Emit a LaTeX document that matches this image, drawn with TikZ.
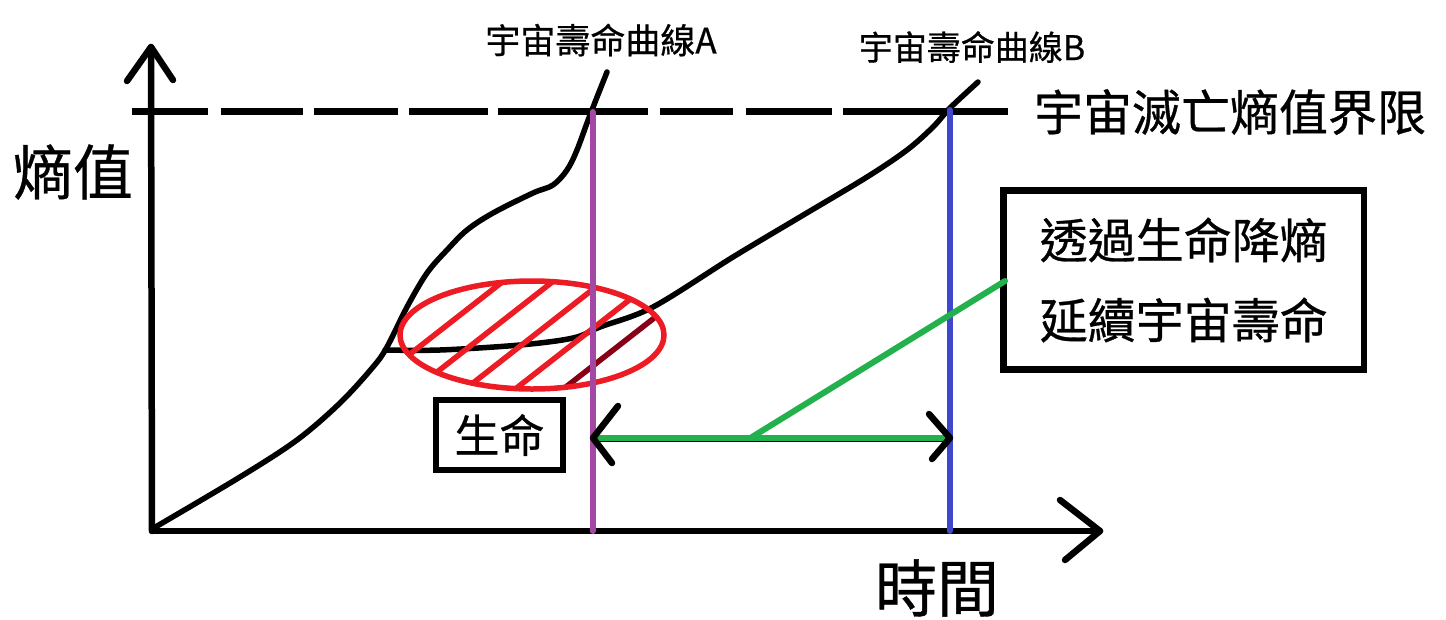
\documentclass[tikz,border=0pt]{standalone}
\usepackage{fontspec}
\setmainfont{Noto Sans CJK TC}[FakeBold=0.6]
\usetikzlibrary{calc}
\definecolor{pred}{HTML}{ED1C24}
\definecolor{pdark}{HTML}{880015}
\definecolor{ppurple}{HTML}{A349A4}
\definecolor{pblue}{HTML}{3F48CC}
\definecolor{pgreen}{HTML}{22B14C}
\begin{document}
\begin{tikzpicture}[x=1pt,y=-1pt,
  blk/.style={line width=5.5pt, line cap=round, line join=round},
  ax/.style={line width=6.5pt, line cap=round, line join=round},
  dashseg/.style={line width=6.5pt},
  vline/.style={line width=6pt, line cap=round},
  hatch/.style={line width=5.5pt, pred},
  lbl/.style={inner sep=0pt, text=black},
  boxed/.style={draw, line width=6.5pt, inner sep=0pt, align=center, fill=white}]
\useasboundingbox (0,0) rectangle (1446,619);
\fill[white] (0,0) rectangle (1446,619);

% key points
\coordinate (O) at (152,531);
\coordinate (ytop) at (151,47);
\coordinate (xend) at (1100,531);
\coordinate (ya1) at (127,81);
\coordinate (ya2) at (173,80);
\coordinate (xa1) at (1060,500);
\coordinate (xa2) at (1065,560);

% axes
\draw[ax] (O) -- (ytop);
\draw[ax] (ya1) -- (ytop) -- (ya2);
\draw[ax] (O) -- (xend);
\draw[ax] (xa1) -- (xend) -- (xa2);

% dashed limit line
\foreach \a/\b in {131.7/208.3, 220.7/302.7, 314.3/398.3, 408.7/487.7, 498.3/648.3, 660/732.7, 746/831.7, 843.3/1008.3}
  \draw[dashseg] (\a,111.7) -- (\b,111.7);

% curve A
\draw[blk] plot[smooth, tension=0.55] coordinates {(152,529) (240,477) (297,440) (340,403) (373,367) (387,347) (407,307) (427,273) (447,250) (467,230) (493,213) (533,193) (553,185) (567,170) (577,150) (590,115) (607,72)};
% curve B
\draw[blk] plot[smooth, tension=0.55] coordinates {(385,350) (440,350) (520,345) (573,338) (600,327) (653,307) (733,257) (800,217) (867,177) (907,150) (933,127) (950,108) (978,82)};

% life ellipse with hatching
\begin{scope}
  \clip (532,335) ellipse [x radius=132, y radius=54];
  \foreach \c in {428,478,528,578}
    \draw[hatch] (\c-160,340+125) -- (\c+160,340-125);
  \draw[hatch, pdark] (626-160,340+125) -- (626+160,340-125);
\end{scope}
\draw[line width=5.5pt, pred] (532,335) ellipse [x radius=132, y radius=54];

% vertical life-time lines
\coordinate (pa) at (592.5,112);
\coordinate (pb) at (592.5,531);
\coordinate (ba) at (949.5,110);
\coordinate (bb) at (949.5,531);
\draw[vline, ppurple] (pa) -- (pb);
\draw[vline, pblue] (ba) -- (bb);

% labels
\node[lbl, font=\fontsize{60}{60}\selectfont] (ylab) at (73,172) {熵值};
\node[lbl, font=\fontsize{62}{62}\selectfont] (xlab) at (937,588) {時間};
\node[lbl, font=\fontsize{49}{49}\selectfont] (lim) at (1230,112) {宇宙滅亡熵值界限};
\node[lbl, font=\fontsize{35}{35}\selectfont] (la) at (601,40) {宇宙壽命曲線A};
\node[lbl, font=\fontsize{34}{34}\selectfont] (lb) at (972,47) {宇宙壽命曲線B};
\node[boxed, minimum width=360.5pt, minimum height=179pt, font=\fontsize{48}{80}\selectfont] (note) at (1183.75,280) {透過生命降熵\\延續宇宙壽命};
\node[boxed, minimum width=127pt, minimum height=70pt, font=\fontsize{45}{45}\selectfont] (life) at (499.5,435) {生命};

% extension arrow
\coordinate (gl) at (593,438);
\coordinate (gr) at (950,438);
\coordinate (gm) at (752,437);
\coordinate (gend) at (1005,281);
\draw[line width=6pt] ($(gl)+(0,1)$) -- ($(gr)+(0,1)$);
\draw[line width=5.5pt, pgreen] (gl) -- (gr);
\draw[line width=6pt, pgreen, line cap=round] (gm) -- (gend);
\draw[ax] (618,406) -- (gl) -- (612,463);
\draw[ax] (929,414) -- (gr) -- (932,459);
\end{tikzpicture}
\end{document}
